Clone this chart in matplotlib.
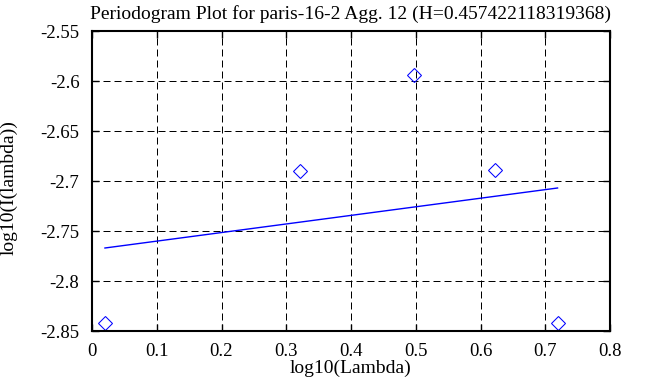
import matplotlib
matplotlib.use("Agg")
import matplotlib.pyplot as plt

# periodogram points (log10 lambda, log10 I(lambda))
log_lambda = [0.0200, 0.3211, 0.4972, 0.6221, 0.7190]
log_I = [-2.842, -2.690, -2.594, -2.689, -2.842]

# fitted line endpoints
fit_x = [0.0200, 0.7190]
fit_y = [-2.767, -2.707]

x_ticks = [0, 0.1, 0.2, 0.3, 0.4, 0.5, 0.6, 0.7, 0.8]
y_ticks = [-2.85, -2.8, -2.75, -2.7, -2.65, -2.6, -2.55]

plt.rcParams['font.family'] = ['Liberation Serif', 'DejaVu Serif']
plt.rcParams['font.size'] = 14

fig = plt.figure(figsize=(6.63, 3.87), dpi=100)
ax = fig.add_axes([92/663, 56/387, 518/663, 300/387])

ax.plot(fit_x, fit_y, color='#0000ff', lw=1.0)
ax.plot(log_lambda, log_I, linestyle='none', marker='D', markersize=7,
        markerfacecolor='none', markeredgecolor='#0000ff', markeredgewidth=0.75)

ax.set_xlim(0, 0.8)
ax.set_ylim(-2.85, -2.55)
ax.set_xticks(x_ticks)
ax.set_xticklabels(['0', '0.1', '0.2', '0.3', '0.4', '0.5', '0.6', '0.7', '0.8'])
ax.set_yticks(y_ticks)
ax.set_yticklabels(['-2.85', '-2.8', '-2.75', '-2.7', '-2.65', '-2.6', '-2.55'])

ax.grid(True, color='black', linestyle=(0, (7, 4)), linewidth=0.72)
ax.tick_params(direction='in', top=True, right=True, length=5, width=1,
               pad=9, labelsize=13.5)
for s in ax.spines.values():
    s.set_linewidth(1.5)

ax.set_title('Periodogram Plot for paris-16-2 Agg. 12 (H=0.457422118319368)',
             fontsize=14, pad=9)
ax.set_xlabel('log10(Lambda)')
ax.set_ylabel('log10(I(lambda))')
ax.xaxis.set_label_coords(0.5, -0.095)
ax.yaxis.set_label_coords(-0.143, 0.477)

fig.savefig('out.png', dpi=100)
